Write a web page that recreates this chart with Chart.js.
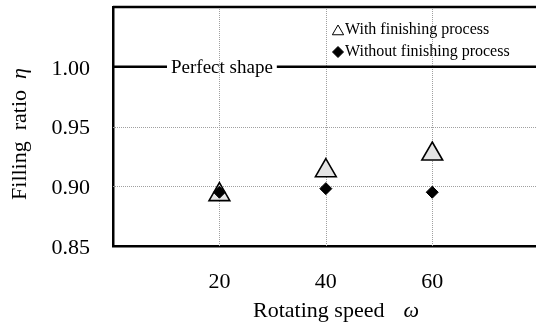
<!DOCTYPE html>
<html><head><meta charset="utf-8">
<script src="https://cdn.jsdelivr.net/npm/chart.js@4/dist/chart.umd.min.js"></script>
<style>html,body{margin:0;padding:0;background:#fff}#wrap{width:536px;height:331px}</style>
</head><body><div id="wrap"><canvas id="c" width="536" height="331"></canvas></div>
<script>
const speeds = [20, 40, 60];
const withFinishing = [0.893, 0.913, 0.927];
const withoutFinishing = [0.895, 0.898, 0.895];
const yTicks = [0.85, 0.90, 0.95, 1.00];
const yGrid = [0.90, 0.95];
const xTicks = [20, 40, 60];
const perfectShape = 1.00;
const seriesNames = ['With finishing process', 'Without finishing process'];
const xTitle = ['Rotating speed', 'ω'];
const yTitle = ['Filling  ratio  ', 'η'];
const refLabel = 'Perfect shape';

const SERIF = '"Liberation Serif", "Times New Roman", serif';

const decor = {
  id: 'decor',
  beforeDatasetsDraw(chart) {
    const {ctx, chartArea: a, scales: {x, y}} = chart;
    ctx.save();
    ctx.strokeStyle = '#a0a0a0';
    ctx.lineWidth = 1;
    ctx.setLineDash([1, 1]);
    yGrid.forEach(v => {
      const py = Math.round(y.getPixelForValue(v)) + 0.5;
      ctx.beginPath(); ctx.moveTo(a.left, py); ctx.lineTo(a.right, py); ctx.stroke();
    });
    xTicks.forEach(v => {
      const px = Math.round(x.getPixelForValue(v)) + 0.5;
      ctx.beginPath(); ctx.moveTo(px, a.top); ctx.lineTo(px, a.bottom); ctx.stroke();
    });
    ctx.setLineDash([]);
    ctx.strokeStyle = '#000';
    ctx.lineWidth = 2.5;
    ctx.beginPath(); ctx.moveTo(a.left, a.top); ctx.lineTo(a.right, a.top); ctx.stroke();
    const py = y.getPixelForValue(perfectShape);
    ctx.font = '19px ' + SERIF;
    const tw = ctx.measureText(refLabel).width;
    const tx = a.left + 58;
    ctx.beginPath(); ctx.moveTo(a.left, py); ctx.lineTo(tx - 4, py); ctx.stroke();
    ctx.beginPath(); ctx.moveTo(tx + tw + 4, py); ctx.lineTo(a.right, py); ctx.stroke();
    ctx.fillStyle = '#000';
    ctx.textBaseline = 'middle';
    ctx.textAlign = 'left';
    ctx.fillText(refLabel, tx, py + 1);
    ctx.restore();
  },
  afterDraw(chart) {
    const {ctx} = chart;
    ctx.save();
    ctx.fillStyle = '#000';
    ctx.font = '16px ' + SERIF;
    ctx.textBaseline = 'middle';
    ctx.textAlign = 'left';
    const lx = 338, rows = [30, 52];
    const ds = chart.data.datasets;
    rows.forEach((ry, i) => {
      const d = ds[i];
      const opts = {pointStyle: d.pointStyle, radius: i === 0 ? 6.5 : 5.5, rotation: 0, borderWidth: 1};
      ctx.fillStyle = i === 0 ? '#fff' : '#000';
      ctx.strokeStyle = '#000';
      ctx.lineWidth = 1;
      Chart.helpers.drawPoint(ctx, opts, lx, ry + (i === 0 ? 1.5 : 0));
      ctx.fillStyle = '#000';
      ctx.fillText(seriesNames[i], lx + 7, ry);
    });
    ctx.font = '22px ' + SERIF;
    const w1 = ctx.measureText(xTitle[0]).width;
    ctx.font = 'italic 22px ' + SERIF;
    const w2 = ctx.measureText(xTitle[1]).width;
    const gap = 19;
    let sx = 336 - (w1 + gap + w2) / 2;
    ctx.textBaseline = 'alphabetic';
    ctx.font = '22px ' + SERIF;
    ctx.fillText(xTitle[0], sx, 317);
    ctx.font = 'italic 22px ' + SERIF;
    ctx.fillText(xTitle[1], sx + w1 + gap, 317);
    ctx.translate(26, 134);
    ctx.rotate(-Math.PI / 2);
    ctx.font = '22px ' + SERIF;
    const v1 = ctx.measureText(yTitle[0]).width;
    ctx.font = 'italic 22px ' + SERIF;
    const v2 = ctx.measureText(yTitle[1]).width;
    let sy = -(v1 + v2) / 2;
    ctx.font = '22px ' + SERIF;
    ctx.fillText(yTitle[0], sy, 0);
    ctx.font = 'italic 22px ' + SERIF;
    ctx.fillText(yTitle[1], sy + v1, 0);
    ctx.restore();
  }
};

new Chart(document.getElementById('c'), {
  type: 'scatter',
  data: {
    datasets: [
      {
        label: seriesNames[0],
        data: speeds.map((s, i) => ({x: s, y: withFinishing[i]})),
        pointStyle: 'triangle', pointRadius: 12, pointHoverRadius: 12,
        backgroundColor: '#e4e4e4', borderColor: '#000', borderWidth: 1.6,
        order: 1
      },
      {
        label: seriesNames[1],
        data: speeds.map((s, i) => ({x: s, y: withoutFinishing[i]})),
        pointStyle: 'rectRot', pointRadius: 6, pointHoverRadius: 6,
        backgroundColor: '#000', borderColor: '#000', borderWidth: 1,
        order: 0
      }
    ]
  },
  options: {
    responsive: false,
    animation: false,
    devicePixelRatio: 1,
    layout: {autoPadding: false, padding: {top: 7, right: 0, left: 0, bottom: 0}},
    plugins: {legend: {display: false}, tooltip: {enabled: false}},
    scales: {
      x: {
        type: 'linear', min: 0, max: 79.5,
        afterBuildTicks: s => { s.ticks = xTicks.map(v => ({value: v})); },
        afterFit: s => { s.height = 85; s.paddingLeft = 0; s.paddingRight = 0; },
        grid: {display: false},
        border: {display: true, color: '#000', width: 2.5},
        ticks: {color: '#000', font: {family: SERIF, size: 22}, padding: 15, maxRotation: 0,
          callback: v => String(v)}
      },
      y: {
        type: 'linear', min: 0.85, max: 1.05,
        afterBuildTicks: s => { s.ticks = yTicks.map(v => ({value: v})); },
        afterFit: s => { s.width = 113; s.paddingTop = 0; s.paddingBottom = 0; },
        grid: {display: false},
        border: {display: true, color: '#000', width: 2.5},
        ticks: {color: '#000', font: {family: SERIF, size: 22}, padding: 15, labelOffset: 2,
          callback: v => Number(v).toFixed(2)}
      }
    }
  },
  plugins: [decor]
});
</script></body></html>
